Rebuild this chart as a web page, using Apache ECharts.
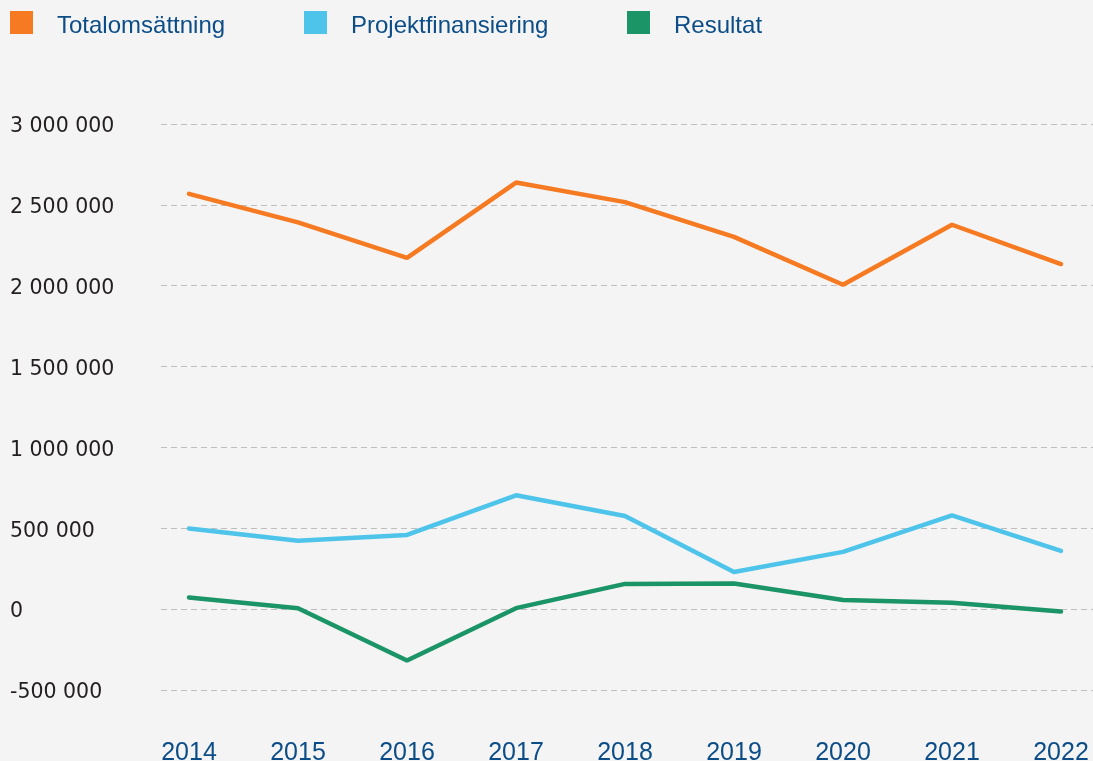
<!DOCTYPE html>
<html>
<head>
<meta charset="utf-8">
<script src="https://cdn.jsdelivr.net/npm/echarts@6/dist/echarts.min.js"></script>
<style>
html,body{margin:0;padding:0;background:#f3f4f3;}
#chart{width:1093px;height:761px;}
</style>
</head>
<body>
<div id="chart"></div>
<script>
const years = ['2014','2015','2016','2017','2018','2019','2020','2021','2022'];
const totalomsattning = [2568000, 2392000, 2172000, 2638000, 2517000, 2302000, 2006000, 2377000, 2134000];
const projektfinansiering = [499000, 423000, 459000, 704000, 576000, 230000, 354000, 580000, 360000];
const resultat = [72000, 6000, -318000, 6000, 156000, 158000, 56000, 39000, -15000];
const seriesNames = ['Totalomsättning', 'Projektfinansiering', 'Resultat'];
const colors = ['#f57a21', '#4ec4ea', '#1b9467'];

const yMin = -500000, yMax = 3000000, yStep = 500000;
const blue = '#0c4d88';

function fmt(v){
  const s = Math.abs(v).toString().replace(/\B(?=(\d{3})+(?!\d))/g, ' ');
  return '{a|' + (v < 0 ? '-' : '') + s + '}';
}

const chart = echarts.init(document.getElementById('chart'));
const legendBase = {
  top: 6, itemWidth: 23, itemHeight: 23, icon: 'rect', padding: 5,
  formatter: '{a|{name}}',
  textStyle: {rich: {a: {fontFamily: 'Liberation Sans', fontSize: 24, color: blue, padding: [7,0,0,19]}}}
};
const lefts = [5, 299, 622];
const datas = [totalomsattning, projektfinansiering, resultat];

chart.setOption({
  backgroundColor: '#f3f4f3',
  animation: false,
  legend: seriesNames.map((n, i) => Object.assign({}, legendBase, {left: lefts[i], data: [n]})),
  grid: [
    {left: 161, right: 0, top: 124, bottom: 71, outerBoundsMode: 'none', containLabel: false},
    {left: 189, right: 32, top: 124, bottom: 71, outerBoundsMode: 'none', containLabel: false}
  ],
  xAxis: [
    {type: 'category', gridIndex: 0, data: years, show: false},
    {type: 'category', gridIndex: 1, data: years, boundaryGap: false,
      axisLine: {show: false}, axisTick: {show: false},
      axisLabel: {color: blue, fontFamily: 'Liberation Sans', fontSize: 25, margin: 51}}
  ],
  yAxis: [
    {type: 'value', gridIndex: 0, min: yMin, max: yMax, interval: yStep,
      axisLine: {show: false}, axisTick: {show: false},
      axisLabel: {align: 'left', margin: 151, formatter: fmt,
        rich: {a: {color: '#231f20', fontFamily: 'DejaVu Sans', fontSize: 20.5, padding: [6,0,0,0]}}},
      splitLine: {lineStyle: {color: '#bdbdbd', width: 1, type: [6, 4]}}},
    {type: 'value', gridIndex: 1, min: yMin, max: yMax, interval: yStep, show: false,
      splitLine: {show: false}}
  ],
  series: seriesNames.map((n, i) => ({
    name: n, type: 'line', xAxisIndex: 1, yAxisIndex: 1,
    data: datas[i], symbol: 'none', color: colors[i],
    lineStyle: {width: 4.5, color: colors[i], cap: 'round'}
  }))
});
</script>
</body>
</html>
